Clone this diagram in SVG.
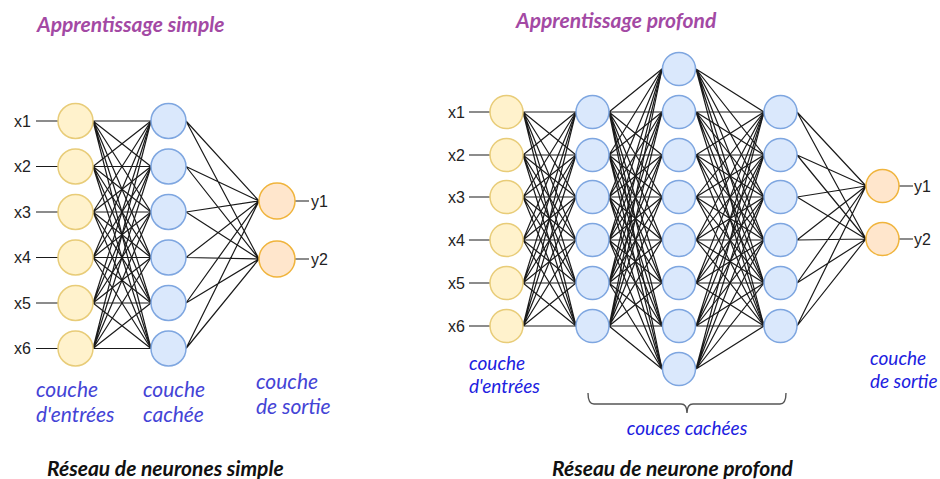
<svg xmlns="http://www.w3.org/2000/svg" width="940" height="479" viewBox="0 0 940 479">
<style>
.in{fill:#fff2cc;stroke:#e8cc78;stroke-width:1.5}
.hid{fill:#dae8fc;stroke:#7ea6e0;stroke-width:1.5}
.out{fill:#ffe6cc;stroke:#f0b43c;stroke-width:1.5}
.conn path{fill:none;stroke:#1a1a1a;stroke-width:1.2}
.lbl{font-family:"Liberation Sans",Arial,sans-serif;font-size:16px;fill:#222}
.title{font-family:Lato,"Open Sans",sans-serif;font-style:italic;font-weight:bold;font-size:21px;fill:#a349a4}
.layer{font-family:Lato,"Open Sans",sans-serif;font-style:italic;font-size:21px;fill:#4444d6}
.layer2{font-family:Lato,"Open Sans",sans-serif;font-style:italic;font-size:19px;fill:#2020e0}
.cap{font-family:Lato,"Open Sans",sans-serif;font-style:italic;font-weight:bold;font-size:21px;fill:#111}
</style>
<rect width="940" height="479" fill="#fff"/>
<g id="connectors" class="conn">
<path d="M36 121L58 121M36 166.5L58 166.5M36 212L58 212M36 257.5L58 257.5M36 303L58 303M36 348.5L58 348.5M295 201L309 201M295 259L309 259"/>
<path d="M93 121L151 121M93 121L151 166.5M93 121L151 212M93 121L151 257.5M93 121L151 303M93 121L151 348.5"/>
<path d="M93 166.5L151 121M93 166.5L151 166.5M93 166.5L151 212M93 166.5L151 257.5M93 166.5L151 303M93 166.5L151 348.5"/>
<path d="M93 212L151 121M93 212L151 166.5M93 212L151 212M93 212L151 257.5M93 212L151 303M93 212L151 348.5"/>
<path d="M93 257.5L151 121M93 257.5L151 166.5M93 257.5L151 212M93 257.5L151 257.5M93 257.5L151 303M93 257.5L151 348.5"/>
<path d="M93 303L151 121M93 303L151 166.5M93 303L151 212M93 303L151 257.5M93 303L151 303M93 303L151 348.5"/>
<path d="M93 348.5L151 121M93 348.5L151 166.5M93 348.5L151 212M93 348.5L151 257.5M93 348.5L151 303M93 348.5L151 348.5"/>
<path d="M186 121L259 201M186 121L259 259M186 166.5L259 201M186 166.5L259 259M186 212L259 201M186 212L259 259M186 257.5L259 201M186 257.5L259 259M186 303L259 201M186 303L259 259M186 348.5L259 201M186 348.5L259 259"/>
<path d="M469 112L490 112M469 155L490 155M469 197L490 197M469 240L490 240M469 283L490 283M469 326L490 326M899 186L913 186M899 239L913 239"/>
<path d="M523 112L576 112M523 112L576 155M523 112L576 197M523 112L576 240M523 112L576 283M523 112L576 326"/>
<path d="M523 155L576 112M523 155L576 155M523 155L576 197M523 155L576 240M523 155L576 283M523 155L576 326"/>
<path d="M523 197L576 112M523 197L576 155M523 197L576 197M523 197L576 240M523 197L576 283M523 197L576 326"/>
<path d="M523 240L576 112M523 240L576 155M523 240L576 197M523 240L576 240M523 240L576 283M523 240L576 326"/>
<path d="M523 283L576 112M523 283L576 155M523 283L576 197M523 283L576 240M523 283L576 283M523 283L576 326"/>
<path d="M523 326L576 112M523 326L576 155M523 326L576 197M523 326L576 240M523 326L576 283M523 326L576 326"/>
<path d="M609 112L662 69M609 112L662 112M609 112L662 155M609 112L662 197M609 112L662 240M609 112L662 283M609 112L662 326M609 112L662 369"/>
<path d="M609 155L662 69M609 155L662 112M609 155L662 155M609 155L662 197M609 155L662 240M609 155L662 283M609 155L662 326M609 155L662 369"/>
<path d="M609 197L662 69M609 197L662 112M609 197L662 155M609 197L662 197M609 197L662 240M609 197L662 283M609 197L662 326M609 197L662 369"/>
<path d="M609 240L662 69M609 240L662 112M609 240L662 155M609 240L662 197M609 240L662 240M609 240L662 283M609 240L662 326M609 240L662 369"/>
<path d="M609 283L662 69M609 283L662 112M609 283L662 155M609 283L662 197M609 283L662 240M609 283L662 283M609 283L662 326M609 283L662 369"/>
<path d="M609 326L662 69M609 326L662 112M609 326L662 155M609 326L662 197M609 326L662 240M609 326L662 283M609 326L662 326M609 326L662 369"/>
<path d="M696 69L764 112M696 69L764 155M696 69L764 197M696 69L764 240M696 69L764 283M696 69L764 326"/>
<path d="M696 112L764 112M696 112L764 155M696 112L764 197M696 112L764 240M696 112L764 283M696 112L764 326"/>
<path d="M696 155L764 112M696 155L764 155M696 155L764 197M696 155L764 240M696 155L764 283M696 155L764 326"/>
<path d="M696 197L764 112M696 197L764 155M696 197L764 197M696 197L764 240M696 197L764 283M696 197L764 326"/>
<path d="M696 240L764 112M696 240L764 155M696 240L764 197M696 240L764 240M696 240L764 283M696 240L764 326"/>
<path d="M696 283L764 112M696 283L764 155M696 283L764 197M696 283L764 240M696 283L764 283M696 283L764 326"/>
<path d="M696 326L764 112M696 326L764 155M696 326L764 197M696 326L764 240M696 326L764 283M696 326L764 326"/>
<path d="M696 369L764 112M696 369L764 155M696 369L764 197M696 369L764 240M696 369L764 283M696 369L764 326"/>
<path d="M797 112L866 186M797 112L866 239M797 155L866 186M797 155L866 239M797 197L866 186M797 197L866 239M797 240L866 186M797 240L866 239M797 283L866 186M797 283L866 239M797 326L866 186M797 326L866 239"/>
</g>
<!-- simple network -->
<g id="s-in1"><circle class="in" cx="75.5" cy="121" r="17.5"/><text class="lbl" x="31" y="126.5" text-anchor="end">x1</text></g>
<g id="s-in2"><circle class="in" cx="75.5" cy="166.5" r="17.5"/><text class="lbl" x="31" y="172" text-anchor="end">x2</text></g>
<g id="s-in3"><circle class="in" cx="75.5" cy="212" r="17.5"/><text class="lbl" x="31" y="217.5" text-anchor="end">x3</text></g>
<g id="s-in4"><circle class="in" cx="75.5" cy="257.5" r="17.5"/><text class="lbl" x="31" y="263" text-anchor="end">x4</text></g>
<g id="s-in5"><circle class="in" cx="75.5" cy="303" r="17.5"/><text class="lbl" x="31" y="308.5" text-anchor="end">x5</text></g>
<g id="s-in6"><circle class="in" cx="75.5" cy="348.5" r="17.5"/><text class="lbl" x="31" y="354" text-anchor="end">x6</text></g>
<g id="s-h1"><circle class="hid" cx="168.5" cy="121" r="17.5"/></g>
<g id="s-h2"><circle class="hid" cx="168.5" cy="166.5" r="17.5"/></g>
<g id="s-h3"><circle class="hid" cx="168.5" cy="212" r="17.5"/></g>
<g id="s-h4"><circle class="hid" cx="168.5" cy="257.5" r="17.5"/></g>
<g id="s-h5"><circle class="hid" cx="168.5" cy="303" r="17.5"/></g>
<g id="s-h6"><circle class="hid" cx="168.5" cy="348.5" r="17.5"/></g>
<g id="s-out1"><circle class="out" cx="277" cy="201" r="18"/><text class="lbl" x="311" y="206.5">y1</text></g>
<g id="s-out2"><circle class="out" cx="277" cy="259" r="18"/><text class="lbl" x="311" y="264.5">y2</text></g>
<!-- deep network -->
<g id="d-in1"><circle class="in" cx="506.5" cy="112" r="16.5"/><text class="lbl" x="465" y="117.5" text-anchor="end">x1</text></g>
<g id="d-in2"><circle class="in" cx="506.5" cy="155" r="16.5"/><text class="lbl" x="465" y="160.5" text-anchor="end">x2</text></g>
<g id="d-in3"><circle class="in" cx="506.5" cy="197" r="16.5"/><text class="lbl" x="465" y="202.5" text-anchor="end">x3</text></g>
<g id="d-in4"><circle class="in" cx="506.5" cy="240" r="16.5"/><text class="lbl" x="465" y="245.5" text-anchor="end">x4</text></g>
<g id="d-in5"><circle class="in" cx="506.5" cy="283" r="16.5"/><text class="lbl" x="465" y="288.5" text-anchor="end">x5</text></g>
<g id="d-in6"><circle class="in" cx="506.5" cy="326" r="16.5"/><text class="lbl" x="465" y="331.5" text-anchor="end">x6</text></g>
<g id="d-h1-1"><circle class="hid" cx="592.5" cy="112" r="16.5"/></g>
<g id="d-h1-2"><circle class="hid" cx="592.5" cy="155" r="16.5"/></g>
<g id="d-h1-3"><circle class="hid" cx="592.5" cy="197" r="16.5"/></g>
<g id="d-h1-4"><circle class="hid" cx="592.5" cy="240" r="16.5"/></g>
<g id="d-h1-5"><circle class="hid" cx="592.5" cy="283" r="16.5"/></g>
<g id="d-h1-6"><circle class="hid" cx="592.5" cy="326" r="16.5"/></g>
<g id="d-h2-1"><circle class="hid" cx="679" cy="69" r="16.5"/></g>
<g id="d-h2-2"><circle class="hid" cx="679" cy="112" r="16.5"/></g>
<g id="d-h2-3"><circle class="hid" cx="679" cy="155" r="16.5"/></g>
<g id="d-h2-4"><circle class="hid" cx="679" cy="197" r="16.5"/></g>
<g id="d-h2-5"><circle class="hid" cx="679" cy="240" r="16.5"/></g>
<g id="d-h2-6"><circle class="hid" cx="679" cy="283" r="16.5"/></g>
<g id="d-h2-7"><circle class="hid" cx="679" cy="326" r="16.5"/></g>
<g id="d-h2-8"><circle class="hid" cx="679" cy="369" r="16.5"/></g>
<g id="d-h3-1"><circle class="hid" cx="780.5" cy="112" r="16.5"/></g>
<g id="d-h3-2"><circle class="hid" cx="780.5" cy="155" r="16.5"/></g>
<g id="d-h3-3"><circle class="hid" cx="780.5" cy="197" r="16.5"/></g>
<g id="d-h3-4"><circle class="hid" cx="780.5" cy="240" r="16.5"/></g>
<g id="d-h3-5"><circle class="hid" cx="780.5" cy="283" r="16.5"/></g>
<g id="d-h3-6"><circle class="hid" cx="780.5" cy="326" r="16.5"/></g>
<g id="d-out1"><circle class="out" cx="882.5" cy="186" r="16.5"/><text class="lbl" x="914" y="191.5">y1</text></g>
<g id="d-out2"><circle class="out" cx="882.5" cy="239" r="16.5"/><text class="lbl" x="914" y="244.5">y2</text></g>
<!-- brace -->
<g id="brace"><path d="M588 393Q588 404 594 404L681 404Q687 404 687 413Q687 404 693 404L780 404Q786 404 786 393" fill="none" stroke="#555" stroke-width="1.4"/></g>
<!-- texts -->
<g id="texts">
<text class="title" x="37" y="32">Apprentissage simple</text>
<text class="title" x="516" y="28">Apprentissage profond</text>
<text class="layer" x="36" y="397">couche</text>
<text class="layer" x="36" y="422">d'entrées</text>
<text class="layer" x="143" y="397">couche</text>
<text class="layer" x="143" y="422">cachée</text>
<text class="layer" x="256" y="389">couche</text>
<text class="layer" x="256" y="414">de sortie</text>
<text class="layer2" x="469" y="370">couche</text>
<text class="layer2" x="469" y="393">d'entrées</text>
<text class="layer2" x="870" y="365">couche</text>
<text class="layer2" x="870" y="388">de sortie</text>
<text class="layer2" x="687" y="435" text-anchor="middle">couces cachées</text>
<text class="cap" x="47" y="476">Réseau de neurones simple</text>
<text class="cap" x="552" y="476">Réseau de neurone profond</text>
</g>
</svg>
